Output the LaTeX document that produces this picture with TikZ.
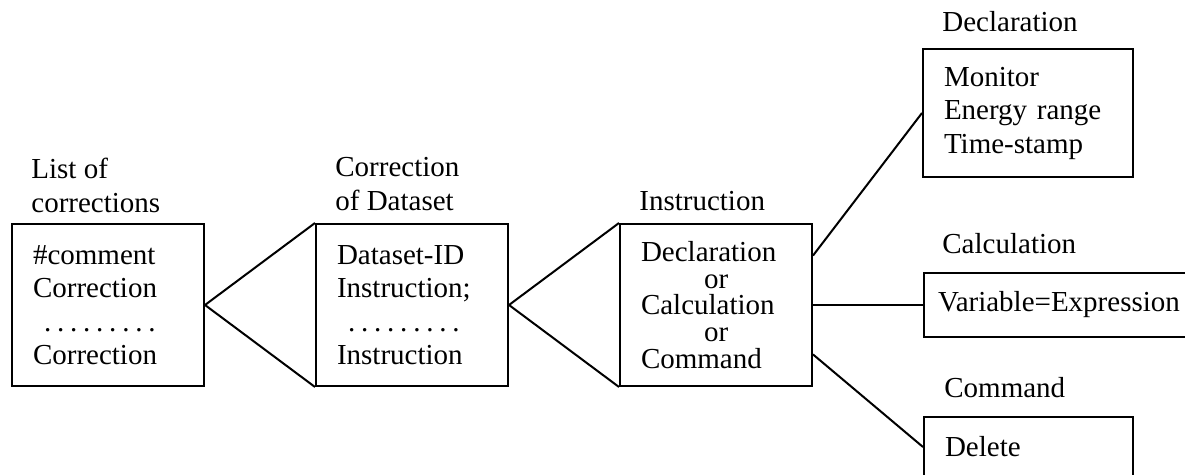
\documentclass[tikz,border=0pt]{standalone}
\usepackage{fontspec}
\setmainfont{Liberation Serif}
\usetikzlibrary{positioning}
\newcommand{\dotline}{\hspace*{5.5pt}.\foreach \k in {1,...,8}{\hspace{2.9pt}.}}

\begin{document}
\begin{tikzpicture}[x=0.5pt,y=-0.5pt,
		box/.style={draw, line width=1pt, align=left, inner xsep=10.5pt, inner ysep=0pt, font=\fontsize{14.5}{16.75}\selectfont},
		heading/.style={inner sep=0pt, align=left, font=\fontsize{14.5}{16.75}\selectfont},
		link/.style={line width=1pt}]
	\useasboundingbox (0,0) rectangle (1185,475);
	\node[box, text width=75pt, minimum height=81pt] (list) at (108,305) {\#comment\\Correction\\\dotline\\Correction};
	\node[box, text width=75pt, minimum height=81pt] (data) at (412,305) {Dataset-ID\\Instruction;\\\dotline\\Instruction};
	\node[box, text width=75pt, minimum height=81pt, font=\fontsize{14.5}{13.35}\selectfont] (inst) at (716,305) {Declaration\\\hspace*{31.5pt}or\\Calculation\\\hspace*{31.5pt}or\\Command};
	\node[box, text width=84pt, minimum height=64pt] (decl) at (1028,113) {Monitor\\Energy range\\Time-stamp};
	\node[box, anchor=west, text width=131pt, inner xsep=7pt, minimum height=32pt] (calc) at (923,305) {Variable=Expression};
	\node[box, anchor=west, text width=83.5pt, minimum height=30pt] (cmd) at (923,447) {Delete};
	\node[heading, above right=5pt and 10pt of list.north west] (listhead) {List of\\corrections};
	\node[heading, above right=6pt and 10pt of data.north west] (datahead) {Correction\\of Dataset};
	\node[heading, above right=6pt and 10pt of inst.north west] (insthead) {Instruction};
	\node[heading, above right=8pt and 10pt of decl.north west] (declhead) {Declaration};
	\node[heading, above right=9pt and 9.5pt of calc.north west] (calchead) {Calculation};
	\node[heading, above right=9pt and 10.5pt of cmd.north west] (cmdhead) {Command};
	\draw[link] (list.east) -- (data.north west);
	\draw[link] (list.east) -- (data.south west);
	\draw[link] (data.east) -- (inst.north west);
	\draw[link] (data.east) -- (inst.south west);
	\draw[link] (inst.27) -- (decl.west);
	\draw[link] (inst.east) -- (calc.west);
	\draw[link] (inst.-27) -- (cmd.west);
\end{tikzpicture}
\end{document}
